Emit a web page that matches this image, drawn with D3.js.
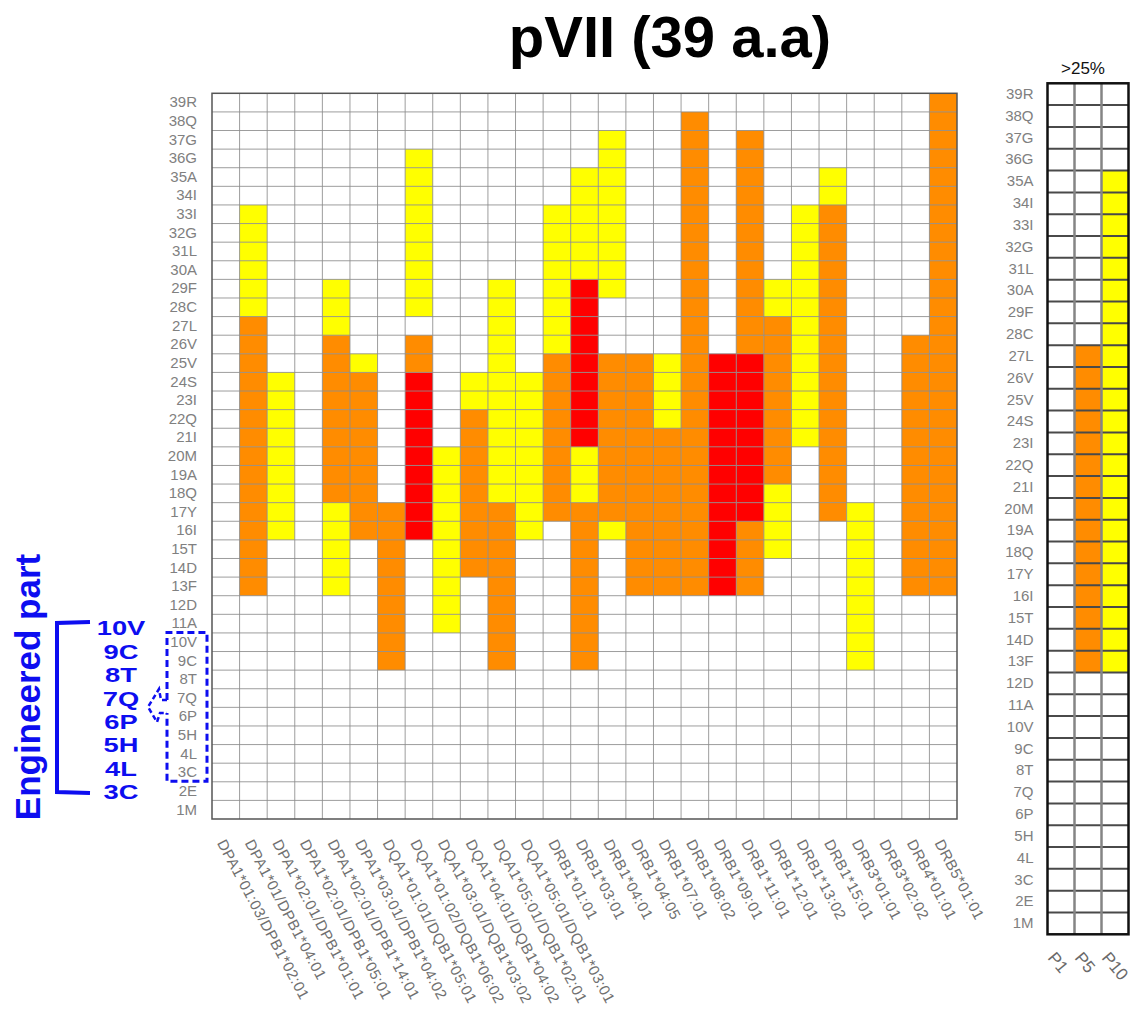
<!DOCTYPE html>
<html>
<head>
<meta charset="utf-8">
<script src="https://cdn.jsdelivr.net/npm/d3@7"></script>
<style>
  body { margin: 0; background: #fff; }
  svg { display: block; }
</style>
</head>
<body>
<svg id="chart" width="1135" height="1013"></svg>
<script>
// Peptide positions of pVII, N-terminus first
const positions = ["1M","2E","3C","4L","5H","6P","7Q","8T","9C","10V","11A","12D","13F","14D","15T",
  "16I","17Y","18Q","19A","20M","21I","22Q","23I","24S","25V","26V","27L","28C","29F","30A",
  "31L","32G","33I","34I","35A","36G","37G","38Q","39R"];

// HLA class II alleles (columns)
const alleles = ["DPA1*01:03/DPB1*02:01","DPA1*01/DPB1*04:01","DPA1*02:01/DPB1*01:01",
  "DPA1*02:01/DPB1*05:01","DPA1*02:01/DPB1*14:01","DPA1*03:01/DPB1*04:02",
  "DQA1*01:01/DQB1*05:01","DQA1*01:02/DQB1*06:02","DQA1*03:01/DQB1*03:02",
  "DQA1*04:01/DQB1*04:02","DQA1*05:01/DQB1*02:01","DQA1*05:01/DQB1*03:01",
  "DRB1*01:01","DRB1*03:01","DRB1*04:01","DRB1*04:05","DRB1*07:01","DRB1*08:02",
  "DRB1*09:01","DRB1*11:01","DRB1*12:01","DRB1*13:02","DRB1*15:01","DRB3*01:01",
  "DRB3*02:02","DRB4*01:01","DRB5*01:01"];

// Predicted binding runs per allele: [first position, last position, level]
// level 1 = weak, 2 = strong, 3 = strongest
const bindingRuns = [
  [],
  [[13,27,2],[28,33,1]],
  [[16,24,1]],
  [],
  [[13,17,1],[18,26,2],[27,29,1]],
  [[16,24,2],[25,25,1]],
  [[9,17,2]],
  [[16,24,3],[25,26,2],[28,36,1]],
  [[11,20,1]],
  [[14,22,2],[23,24,1]],
  [[9,17,2],[18,29,1]],
  [[16,24,1]],
  [[17,25,2],[26,33,1]],
  [[9,17,2],[18,20,1],[21,29,3],[30,35,1]],
  [[16,16,1],[17,25,2],[29,37,1]],
  [[13,25,2]],
  [[13,21,2],[22,25,1]],
  [[13,38,2]],
  [[13,25,3]],
  [[13,16,2],[17,25,3],[26,37,2]],
  [[15,18,1],[19,27,2],[28,29,1]],
  [[21,33,1]],
  [[17,33,2],[34,35,1]],
  [[9,17,1]],
  [],
  [[13,26,2]],
  [[13,39,2]]
];

// Population coverage summary (>25%)
const coverageGroups = ["P1","P5","P10"];
const coverageRuns = [
  [],
  [[13,27,2]],
  [[13,35,1]]
];

// Engineered segment of the peptide
const engineeredLabels = ["10V","9C","8T","7Q","6P","5H","4L","3C"];

const levelColor = d3.scaleOrdinal().domain([1,2,3]).range(["#ffff00","#ff8c00","#ff0000"]);
const blue = "#0d0df0";

const svg = d3.select("#chart");

function expand(cols, runs) {
  const cells = [];
  cols.forEach((c, i) => {
    runs[i].forEach(([from, to, level]) => {
      for (let p = from; p <= to; p++) cells.push({col: c, pos: positions[p - 1], level});
    });
  });
  return cells;
}

// ---------- main heatmap ----------
const M = {left: 212, right: 957, top: 93.3, bottom: 819};
const x = d3.scaleBand().domain(alleles).range([M.left, M.right]).padding(0);
const y = d3.scaleBand().domain(positions.slice().reverse()).range([M.top, M.bottom]).padding(0);

const main = svg.append("g");
main.selectAll("rect.cell")
  .data(expand(alleles, bindingRuns))
  .join("rect")
  .attr("class", "cell")
  .attr("x", d => x(d.col))
  .attr("y", d => y(d.pos))
  .attr("width", x.bandwidth())
  .attr("height", y.bandwidth())
  .attr("fill", d => levelColor(d.level));

const gridG = main.append("g").attr("stroke", "#8c8c8c").attr("stroke-opacity", 0.85).attr("stroke-width", 1);
gridG.selectAll("line.v").data(alleles.slice(1)).join("line")
  .attr("x1", d => x(d)).attr("x2", d => x(d))
  .attr("y1", M.top).attr("y2", M.bottom);
gridG.selectAll("line.h").data(positions.slice(0, -1)).join("line")
  .attr("x1", M.left).attr("x2", M.right)
  .attr("y1", d => y(d)).attr("y2", d => y(d));
main.append("rect")
  .attr("x", M.left).attr("y", M.top)
  .attr("width", M.right - M.left).attr("height", M.bottom - M.top)
  .attr("fill", "none").attr("stroke", "#555").attr("stroke-width", 1.5);

const labelFont = "'Liberation Sans Narrow', 'Liberation Sans', Arial, sans-serif";

const yAxis = main.append("g")
  .attr("transform", `translate(${M.left},0)`)
  .call(d3.axisLeft(y).tickSize(0).tickPadding(15));
yAxis.select(".domain").remove();
yAxis.selectAll("text")
  .attr("fill", "#808080")
  .style("font-family", labelFont)
  .style("font-size", "15px");

const xAxis = main.append("g")
  .attr("transform", `translate(0,${M.bottom})`)
  .call(d3.axisBottom(x).tickSize(0));
xAxis.select(".domain").remove();
xAxis.selectAll("text")
  .attr("x", 0).attr("y", 0).attr("dy", null)
  .attr("text-anchor", "start")
  .attr("transform", "translate(-9,24) rotate(62)")
  .attr("fill", "#707070")
  .style("font-family", "'Liberation Sans', Arial, sans-serif")
  .style("font-size", "15px")
  .style("letter-spacing", "0.5px");

// ---------- title ----------
svg.append("text")
  .attr("x", 670).attr("y", 57)
  .attr("text-anchor", "middle")
  .style("font-family", "'Liberation Sans', Arial, sans-serif")
  .style("font-weight", "bold")
  .style("font-size", "58px")
  .attr("fill", "#000")
  .text("pVII (39 a.a)");

// ---------- coverage panel ----------
const R = {left: 1047.5, right: 1128.5, top: 83.3, bottom: 934.3};
const xr = d3.scaleBand().domain(coverageGroups).range([R.left, R.right]).padding(0);
const yr = d3.scaleBand().domain(positions.slice().reverse()).range([R.top, R.bottom]).padding(0);

const side = svg.append("g");
side.selectAll("rect.cell")
  .data(expand(coverageGroups, coverageRuns))
  .join("rect")
  .attr("class", "cell")
  .attr("x", d => xr(d.col))
  .attr("y", d => yr(d.pos))
  .attr("width", xr.bandwidth())
  .attr("height", yr.bandwidth())
  .attr("fill", d => levelColor(d.level));

side.selectAll("line.h").data(positions.slice(0, -1)).join("line")
  .attr("x1", R.left).attr("x2", R.right)
  .attr("y1", d => yr(d)).attr("y2", d => yr(d))
  .attr("stroke", "#4a4a4a").attr("stroke-width", 2);
side.selectAll("line.v").data(coverageGroups.slice(1)).join("line")
  .attr("x1", d => xr(d)).attr("x2", d => xr(d))
  .attr("y1", R.top).attr("y2", R.bottom)
  .attr("stroke", "#858585").attr("stroke-width", 2.5);
side.append("rect")
  .attr("x", R.left).attr("y", R.top)
  .attr("width", R.right - R.left).attr("height", R.bottom - R.top)
  .attr("fill", "none").attr("stroke", "#111").attr("stroke-width", 2.5);

const yrAxis = side.append("g")
  .attr("transform", `translate(${R.left},0)`)
  .call(d3.axisLeft(yr).tickSize(0).tickPadding(14));
yrAxis.select(".domain").remove();
yrAxis.selectAll("text")
  .attr("fill", "#808080")
  .style("font-family", labelFont)
  .style("font-size", "15px");

const xrAxis = side.append("g")
  .attr("transform", `translate(0,${R.bottom})`)
  .call(d3.axisBottom(xr).tickSize(0));
xrAxis.select(".domain").remove();
xrAxis.selectAll("text")
  .attr("x", 0).attr("y", 0).attr("dy", null)
  .attr("text-anchor", "start")
  .attr("transform", "translate(-14,24) rotate(50)")
  .attr("fill", "#6a6a6a")
  .style("font-family", "'Liberation Sans', Arial, sans-serif")
  .style("font-size", "17px");

side.append("text")
  .attr("x", 1083).attr("y", 74)
  .attr("text-anchor", "middle")
  .style("font-family", "'Liberation Sans', Arial, sans-serif")
  .style("font-size", "17px")
  .attr("fill", "#111")
  .text(">25%");

// ---------- engineered-part annotation ----------
const ann = svg.append("g");
ann.append("text")
  .attr("transform", "translate(40,687) rotate(-90)")
  .attr("text-anchor", "middle")
  .style("font-family", "'Liberation Sans', Arial, sans-serif")
  .style("font-weight", "bold")
  .style("font-size", "35px")
  .attr("fill", blue)
  .text("Engineered part");

ann.append("path")
  .attr("d", "M90,622 L57,623 L57,792 L90,793")
  .attr("fill", "none").attr("stroke", blue).attr("stroke-width", 4);

const eY = d3.scalePoint().domain(engineeredLabels).range([628, 792]);
ann.selectAll("g.eng").data(engineeredLabels).join("g")
  .attr("class", "eng")
  .attr("transform", d => `translate(121,${eY(d)}) scale(1.3,1)`)
  .append("text")
  .attr("text-anchor", "middle")
  .attr("dominant-baseline", "central")
  .style("font-family", "'Liberation Sans', Arial, sans-serif")
  .style("font-weight", "bold")
  .style("font-size", "21px")
  .attr("fill", blue)
  .text(d => d);

// dashed frame around the engineered rows of the axis, with a pointer to the list
const frameTop = y("10V") - 0.5, frameBottom = y("3C") + y.bandwidth() - 0.5;
ann.append("path")
  .attr("d", `M167,700 L167,${frameTop} L207,${frameTop} L207,${frameBottom} L167,${frameBottom} L167,713`)
  .attr("fill", "none").attr("stroke", blue).attr("stroke-width", 3)
  .attr("stroke-dasharray", "7,4");
ann.append("path")
  .attr("d", "M167,700 L161,700 L159,689 L148,707 L157,722 L160,713 L167,713")
  .attr("fill", "none").attr("stroke", blue).attr("stroke-width", 2.5)
  .attr("stroke-dasharray", "5,3");
</script>
</body>
</html>
